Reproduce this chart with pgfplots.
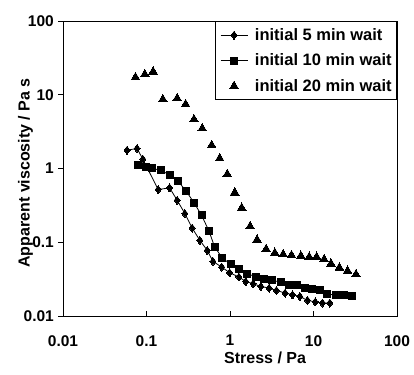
\documentclass[border=0pt]{standalone}
\usepackage{fontspec}
\setmainfont{Liberation Sans}
\usepackage{pgfplots}
\pgfplotsset{compat=1.18}
\pgfplotsset{mylegimg/.style={legend image code/.code={\draw[mark repeat=2,mark phase=2,##1] plot coordinates {(0pt,0pt) (13.5pt,0pt) (27pt,0pt)};}}}
\pgfplotstableread{
x y
0.0585 1.77
0.0771 1.87
0.0903 1.34
0.138 0.518
0.189 0.547
0.233 0.371
0.288 0.245
0.352 0.156
0.436 0.106
0.534 0.0776
0.625 0.0550
0.795 0.0461
0.991 0.0386
1.28 0.0338
1.54 0.0294
1.89 0.0274
2.34 0.0252
2.94 0.0239
3.60 0.0222
4.57 0.0205
5.60 0.0194
6.87 0.0184
8.47 0.0163
10.5 0.0155
12.8 0.0150
15.7 0.0150
}\fivemin
\pgfplotstableread{
x y
0.0793 1.11
0.0973 1.05
0.1167 1.00
0.150 0.948
0.190 0.811
0.239 0.672
0.299 0.492
0.370 0.345
0.457 0.232
0.560 0.142
0.655 0.0862
0.809 0.0612
1.02 0.0501
1.28 0.0438
1.61 0.0374
2.04 0.0341
2.56 0.0320
3.22 0.0303
4.06 0.0289
5.11 0.0265
6.32 0.0260
7.95 0.0239
9.72 0.0234
12.0 0.0222
14.7 0.0200
18.6 0.0190
23.4 0.0190
28.9 0.0184
}\tenmin
\pgfplotstableread{
x y
0.0738 17.2
0.0954 18.9
0.120 20.6
0.157 8.66
0.233 8.93
0.294 7.41
0.370 4.63
0.465 3.49
0.603 2.07
0.752 1.37
0.928 0.837
1.14 0.472
1.38 0.292
1.74 0.164
2.11 0.108
2.71 0.0806
3.44 0.0716
4.33 0.0685
5.45 0.0664
7.06 0.0652
8.88 0.0631
10.9 0.0631
13.4 0.0586
16.2 0.0512
20.4 0.0452
25.6 0.0408
32.3 0.0366
}\twentymin
\begin{document}
\begin{tikzpicture}
\begin{axis}[
  at={(0pt,0pt)}, anchor=south west,
  scale only axis, width=334pt, height=295pt,
  xmode=log, ymode=log,
  xmin=0.01, xmax=100, ymin=0.01, ymax=100,
  xtick={0.01,0.1,1,10,100}, xticklabels={0.01,0.1,1,10,100},
  ytick={0.01,0.1,1,10,100}, yticklabels={0.01,0.1,1,10,100},
  xminorticks=false, yminorticks=false,
  xtick pos=bottom, ytick pos=left,
  xtick align=inside, ytick align=outside,
  major tick length=5pt,
  axis line style={line width=0.8pt},
  every tick/.style={black, line width=0.8pt},
  tick label style={font=\fontsize{15.5}{18}\selectfont\bfseries},
  xticklabel style={inner sep=0pt, anchor=north, yshift=-19pt},
  yticklabel style={inner sep=0pt, anchor=east, xshift=-4pt},
  xlabel={Stress / Pa},
  ylabel={Apparent viscosity / Pa s},
  label style={font=\fontsize{16}{19}\selectfont\bfseries},
  xlabel style={at={(axis description cs:0.605,0)}, anchor=north, inner sep=0pt, yshift=-36pt},
  ylabel style={at={(axis description cs:-0.1,0.485)}, anchor=base, inner sep=0pt},
  legend style={at={(1,1)}, anchor=north east, draw=black, line width=0.8pt,
    font=\fontsize{16.5}{19}\selectfont\bfseries,
    inner xsep=5pt, inner ysep=6pt, row sep=10pt,
    nodes={inner xsep=0pt, inner ysep=1pt},
    /tikz/every odd column/.append style={column sep=7pt}},
  legend cell align=left,
  mylegimg,
]
\addplot[black, line width=0.8pt, mark=diamond*, mark size=4pt, mark options={solid, line width=0pt}] table {\fivemin};
\addlegendentry{initial 5 min wait}
\addplot[black, line width=0.8pt, mark=square*, mark size=3.5pt, mark options={solid, line width=0pt}] table {\tenmin};
\addlegendentry{initial 10 min wait}
\addplot[black, only marks, mark=triangle*, mark size=5pt, mark options={solid, line width=0pt}, mylegimg] table {\twentymin};
\addlegendentry{initial 20 min wait}
\end{axis}
\path[use as bounding box] (-63pt,-58pt) rectangle (351pt,316pt);
\end{tikzpicture}
\end{document}
